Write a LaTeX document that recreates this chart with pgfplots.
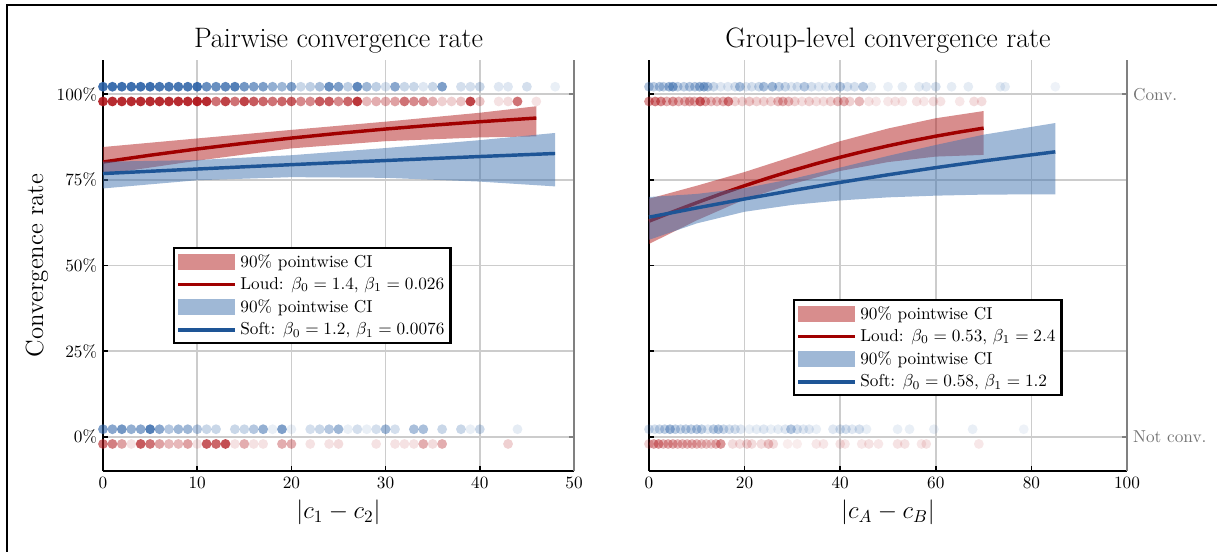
\documentclass[border=0pt]{standalone}
\usepackage{amsmath}
\usepackage{pgfplots}
\pgfplotsset{compat=1.18}
\usepackage{pgfplotstable}

\definecolor{lineRed}{RGB}{160,0,0}
\definecolor{lineBlue}{RGB}{30,85,150}
\definecolor{bandRed}{RGB}{178,28,28}
\definecolor{bandBlue}{RGB}{65,115,175}
\definecolor{dotRed}{RGB}{175,20,25}
\definecolor{dotBlue}{RGB}{40,95,165}

% dots: x, row height, opacity (darker = more runs at that value)
\pgfplotstableread{
x y a
0 102.2 .9
1 102.2 .9
2 102.2 .9
3 102.2 .9
4 102.2 .9
5 102.2 .9
6 102.2 .85
7 102.2 .85
8 102.2 .85
9 102.2 .85
10 102.2 .9
11 102.2 .7
12 102.2 .7
13 102.2 .75
14 102.2 .8
15 102.2 .65
16 102.2 .6
17 102.2 .6
18 102.2 .5
19 102.2 .45
20 102.2 .6
21 102.2 .25
22 102.2 .3
23 102.2 .4
24 102.2 .7
25 102.2 .6
26 102.2 .3
27 102.2 .75
28 102.2 .45
29 102.2 .3
30 102.2 .2
31 102.2 .55
32 102.2 .25
33 102.2 .25
34 102.2 .15
35 102.2 .25
36 102.2 .6
38 102.2 .2
39 102.2 .2
40 102.2 .25
42 102.2 .15
43 102.2 .15
45 102.2 .2
48 102.2 .1
}\LtopBlue

\pgfplotstableread{
x y a
0 97.9 .9
1 97.9 .9
2 97.9 .9
3 97.9 .9
4 97.9 .9
5 97.9 .9
6 97.9 .9
7 97.9 .9
8 97.9 .9
9 97.9 .9
10 97.9 .95
11 97.9 .9
12 97.9 .6
13 97.9 .8
14 97.9 .6
15 97.9 .8
16 97.9 .7
17 97.9 .65
18 97.9 .6
19 97.9 .65
20 97.9 .7
21 97.9 .5
22 97.9 .5
23 97.9 .7
24 97.9 .7
25 97.9 .5
26 97.9 .65
27 97.9 .85
28 97.9 .3
29 97.9 .35
30 97.9 .35
31 97.9 .4
32 97.9 .6
33 97.9 .5
34 97.9 .5
35 97.9 .35
36 97.9 .2
37 97.9 .2
38 97.9 .25
39 97.9 .8
40 97.9 .25
42 97.9 .12
43 97.9 .15
44 97.9 .6
46 97.9 .12
}\LtopRed

\pgfplotstableread{
x y a
0 2.2 .6
1 2.2 .55
2 2.2 .65
3 2.2 .5
4 2.2 .55
5 2.2 .8
6 2.2 .55
7 2.2 .35
8 2.2 .45
9 2.2 .45
10 2.2 .35
11 2.2 .25
12 2.2 .25
14 2.2 .25
15 2.2 .25
16 2.2 .35
17 2.2 .5
18 2.2 .1
19 2.2 .6
20 2.2 .1
22 2.2 .2
23 2.2 .25
24 2.2 .35
25 2.2 .45
26 2.2 .1
27 2.2 .2
28 2.2 .1
29 2.2 .2
30 2.2 .45
31 2.2 .2
33 2.2 .4
34 2.2 .4
36 2.2 .25
38 2.2 .25
39 2.2 .1
40 2.2 .25
44 2.2 .12
}\LbotBlue

\pgfplotstableread{
x y a
0 -2.1 .6
1 -2.1 .55
2 -2.1 .4
3 -2.1 .12
4 -2.1 .7
5 -2.1 .6
6 -2.1 .4
7 -2.1 .3
8 -2.1 .3
9 -2.1 .4
10 -2.1 .12
11 -2.1 .7
12 -2.1 .65
13 -2.1 .75
14 -2.1 .12
15 -2.1 .35
16 -2.1 .12
17 -2.1 .12
19 -2.1 .35
20 -2.1 .35
22 -2.1 .12
24 -2.1 .12
25 -2.1 .15
29 -2.1 .12
31 -2.1 .12
32 -2.1 .12
33 -2.1 .12
34 -2.1 .35
35 -2.1 .15
36 -2.1 .35
43 -2.1 .2
}\LbotRed

\pgfplotstableread{
x y a
0 102.2 .35
1 102.2 .3
2.2 102.2 .35
3 102.2 .3
4.2 102.2 .45
5 102.2 .55
6 102.2 .3
7.3 102.2 .3
8.5 102.2 .35
9.6 102.2 .35
10.6 102.2 .45
11.5 102.2 .5
12.3 102.2 .35
13.5 102.2 .25
15 102.2 .15
16.5 102.2 .15
18 102.2 .2
19 102.2 .4
20.3 102.2 .15
21.5 102.2 .2
23 102.2 .25
24 102.2 .4
25.8 102.2 .45
27.2 102.2 .3
28.5 102.2 .25
29.8 102.2 .15
31 102.2 .2
32.5 102.2 .35
34 102.2 .2
35.5 102.2 .15
37 102.2 .15
38.5 102.2 .2
40 102.2 .35
41.5 102.2 .2
43 102.2 .2
44.8 102.2 .35
46.5 102.2 .12
50 102.2 .1
53 102.2 .12
56.5 102.2 .12
58 102.2 .15
60 102.2 .2
63.3 102.2 .12
66.8 102.2 .12
73.5 102.2 .12
74.5 102.2 .12
85 102.2 .08
}\RtopBlue

\pgfplotstableread{
x y a
0 97.9 .45
1.3 97.9 .55
2.5 97.9 .5
3.7 97.9 .35
5 97.9 .45
6.2 97.9 .35
7.5 97.9 .35
8.5 97.9 .4
9.5 97.9 .35
10.7 97.9 .65
11.8 97.9 .4
13 97.9 .3
14.2 97.9 .3
15.5 97.9 .35
16.6 97.9 .55
18 97.9 .2
19.5 97.9 .2
21 97.9 .25
22.5 97.9 .2
24 97.9 .2
25.5 97.9 .2
27 97.9 .3
28 97.9 .35
29.2 97.9 .3
30.5 97.9 .2
32 97.9 .15
33.5 97.9 .2
35 97.9 .15
36.5 97.9 .15
38 97.9 .2
39.5 97.9 .3
40.8 97.9 .35
42 97.9 .2
44 97.9 .3
46 97.9 .12
47.5 97.9 .1
50 97.9 .1
51.5 97.9 .12
53 97.9 .1
56 97.9 .12
57.5 97.9 .1
59.5 97.9 .15
61 97.9 .12
65 97.9 .1
68 97.9 .15
69.6 97.9 .15
}\RtopRed

\pgfplotstableread{
x y a
0 2.2 .2
1.2 2.2 .2
2.2 2.2 .25
3.3 2.2 .3
4.4 2.2 .45
5.5 2.2 .3
6.6 2.2 .25
7.7 2.2 .3
8.8 2.2 .3
10 2.2 .35
11 2.2 .3
12.3 2.2 .15
13.5 2.2 .3
14.5 2.2 .35
15.6 2.2 .25
16.8 2.2 .2
18 2.2 .2
19.2 2.2 .15
21 2.2 .1
22.5 2.2 .12
24 2.2 .15
25.5 2.2 .1
27 2.2 .12
28.5 2.2 .15
29.7 2.2 .35
31 2.2 .2
32.3 2.2 .15
33.5 2.2 .15
35 2.2 .1
38.5 2.2 .15
40 2.2 .2
41.2 2.2 .2
42.5 2.2 .15
44 2.2 .2
45.5 2.2 .1
52 2.2 .1
54.5 2.2 .1
59.6 2.2 .1
67.7 2.2 .1
78.4 2.2 .08
}\RbotBlue

\pgfplotstableread{
x y a
0 -2.1 .2
1 -2.1 .4
2 -2.1 .45
3 -2.1 .3
4 -2.1 .35
5 -2.1 .35
6 -2.1 .3
7 -2.1 .3
8 -2.1 .3
9 -2.1 .3
10 -2.1 .3
11 -2.1 .25
12 -2.1 .25
13 -2.1 .2
14 -2.1 .3
15 -2.1 .45
17.5 -2.1 .15
19 -2.1 .15
20.5 -2.1 .2
21.5 -2.1 .15
23.5 -2.1 .15
25 -2.1 .25
26 -2.1 .15
29 -2.1 .08
31 -2.1 .08
35 -2.1 .1
36.5 -2.1 .1
40 -2.1 .12
41 -2.1 .1
44.5 -2.1 .1
46 -2.1 .12
48 -2.1 .1
52 -2.1 .12
53.5 -2.1 .12
57 -2.1 .1
58 -2.1 .12
69 -2.1 .1
}\RbotRed

\pgfplotsset{
  panel/.style={scale only axis, height=238.38pt, anchor=south west,
    ymin=-10, ymax=110, ytick={0,25,50,75,100},
    axis x line*=bottom, axis y line*=left,
    tick align=inside, major tick length=3pt,
    grid=major, grid style={black!20, line width=1pt},
    axis line style={line width=1.2pt, black},
    every tick/.style={line width=1pt, black},
    title style={font=\fontsize{16.3}{19}\selectfont, at={(0.5,1)}, anchor=base, yshift=1pt},
    label style={font=\Large}, ylabel style={yshift=-2pt},
    tick label style={font=\normalsize},
    clip=false},
  rightax/.style={scale only axis, height=238.38pt, anchor=south west,
    ymin=-10, ymax=110, ytick={0,100},
    axis y line*=right, axis x line=none,
    tick align=inside, major tick length=3pt,
    axis line style={line width=1.6pt, black!50},
    every tick/.style={line width=1.1pt, black!50},
    yticklabel style={black!55, font=\normalsize}},
  dots/.style={scatter, only marks, mark=*, mark size=2.85pt, forget plot,
    visualization depends on={\thisrow{a}\as\dotalpha},
    scatter/@pre marker code/.code={\begin{scope}[fill=#1, draw opacity=0, fill opacity=\dotalpha]},
    scatter/@post marker code/.code={\end{scope}}},
  bandleg/.style={legend image code/.code={\fill[##1] (0pt,-4.5pt) rectangle (33pt,4.5pt);}},
  lineleg/.style={legend image code/.code={\draw[##1] (0pt,0pt) -- (33pt,0pt);}},
  leg/.style={legend style={draw=black, line width=1.2pt, fill=white,
    font=\normalsize, cells={anchor=west}, inner sep=1.5pt, row sep=0.4pt}},
}

\begin{document}
\begin{tikzpicture}
\useasboundingbox (0,0) rectangle (705.86pt,-319.58pt);
\draw[line width=1.4pt] (4.06pt,-340pt) -- (4.06pt,-2.9pt) -- (720pt,-2.9pt);

% ---------- left: pairwise ----------
\begin{axis}[panel, at={(59.74pt,-273.18pt)}, width=273.18pt,
    xmin=0, xmax=50, xtick={0,10,...,50},
    yticklabels={0\%,25\%,50\%,75\%,100\%},
    title={Pairwise convergence rate},
    xlabel={$\lvert c_1 - c_2\rvert$}, ylabel={Convergence rate},
    leg, legend style={at={(0.1486,0.545)}, anchor=north west}]
\addplot[dots=dotBlue] table {\LtopBlue};
\addplot[dots=dotRed] table {\LtopRed};
\addplot[dots=dotBlue] table {\LbotBlue};
\addplot[dots=dotRed] table {\LbotRed};

\addplot[fill=bandRed, fill opacity=0.5, draw=none, bandleg]
  coordinates {(0,84.6) (10,87.1) (20,89.6) (30,92.0) (40,94.6) (46,96.5)
               (46,87.7) (40,87.4) (30,86.3) (20,84.2) (10,80.6) (0,76.6)} -- cycle;
\addlegendentry{90\% pointwise CI}
\addplot[lineRed, line width=2pt, lineleg]
  coordinates {(0,80.22) (5,82.20) (10,84.03) (15,85.69) (20,87.21) (25,88.60)
               (30,89.85) (35,90.97) (40,91.98) (46,93.06)};
\addlegendentry{Loud: $\beta_0 = 1.4$, $\beta_1 = 0.026$}
\addplot[fill=bandBlue, fill opacity=0.5, draw=none, bandleg]
  coordinates {(0,80.3) (10,80.8) (20,82.2) (30,84.3) (40,86.6) (48,88.7)
               (48,73.1) (40,74.5) (30,75.6) (20,75.8) (10,74.9) (0,72.5)} -- cycle;
\addlegendentry{90\% pointwise CI}
\addplot[lineBlue, line width=2pt, lineleg]
  coordinates {(0,76.85) (8,77.91) (16,78.95) (24,79.94) (32,80.89) (40,81.82) (48,82.71)};
\addlegendentry{Soft: $\beta_0 = 1.2$, $\beta_1 = 0.0076$}
\end{axis}
\begin{axis}[rightax, at={(59.74pt,-273.18pt)}, width=273.18pt,
    xmin=0, xmax=50, yticklabels={}]
\end{axis}

% ---------- right: group-level ----------
\begin{axis}[panel, at={(376.42pt,-273.18pt)}, width=277.24pt,
    xmin=0, xmax=100, xtick={0,20,...,100},
    yticklabels={},
    title={Group-level convergence rate},
    xlabel={$\lvert c_A - c_B\rvert$},
    leg, legend style={at={(0.301,0.4185)}, anchor=north west}]
\addplot[dots=dotBlue] table {\RtopBlue};
\addplot[dots=dotRed] table {\RtopRed};
\addplot[dots=dotBlue] table {\RbotBlue};
\addplot[dots=dotRed] table {\RbotRed};

\addplot[fill=bandRed, fill opacity=0.5, draw=none, bandleg]
  coordinates {(0,69.5) (10,73.3) (20,77.3) (30,81.8) (40,86.3) (50,90.0) (60,93.0) (70,95.1)
               (70,82.3) (60,81.8) (50,80.2) (40,77.6) (30,73.8) (20,69.3) (10,63.2) (0,56.3)} -- cycle;
\addlegendentry{90\% pointwise CI}
\addplot[lineRed, line width=2pt, lineleg]
  coordinates {(0,62.95) (5,65.70) (10,68.35) (15,70.89) (20,73.30) (25,75.58) (30,77.73)
               (35,79.74) (40,81.61) (45,83.34) (50,84.94) (55,86.41) (60,87.76) (65,88.99) (70,90.11)};
\addlegendentry{Loud: $\beta_0 = 0.53$, $\beta_1 = 2.4$}
\addplot[fill=bandBlue, fill opacity=0.5, draw=none, bandleg]
  coordinates {(0,70.0) (10,70.9) (20,72.6) (30,75.3) (40,78.6) (50,82.0) (60,85.2) (70,88.2) (85,91.6)
               (85,70.8) (70,70.7) (60,70.4) (50,69.9) (40,69.0) (30,67.7) (20,65.7) (10,62.3) (0,57.5)} -- cycle;
\addlegendentry{90\% pointwise CI}
\addplot[lineBlue, line width=2pt, lineleg]
  coordinates {(0,64.11) (10,66.82) (20,69.43) (30,71.91) (40,74.27) (50,76.49)
               (60,78.58) (70,80.53) (85,83.20)};
\addlegendentry{Soft: $\beta_0 = 0.58$, $\beta_1 = 1.2$}
\end{axis}
\begin{axis}[rightax, at={(376.42pt,-273.18pt)}, width=277.24pt,
    xmin=0, xmax=100, yticklabels={Not conv., Conv.}]
\end{axis}
\end{tikzpicture}
\end{document}
